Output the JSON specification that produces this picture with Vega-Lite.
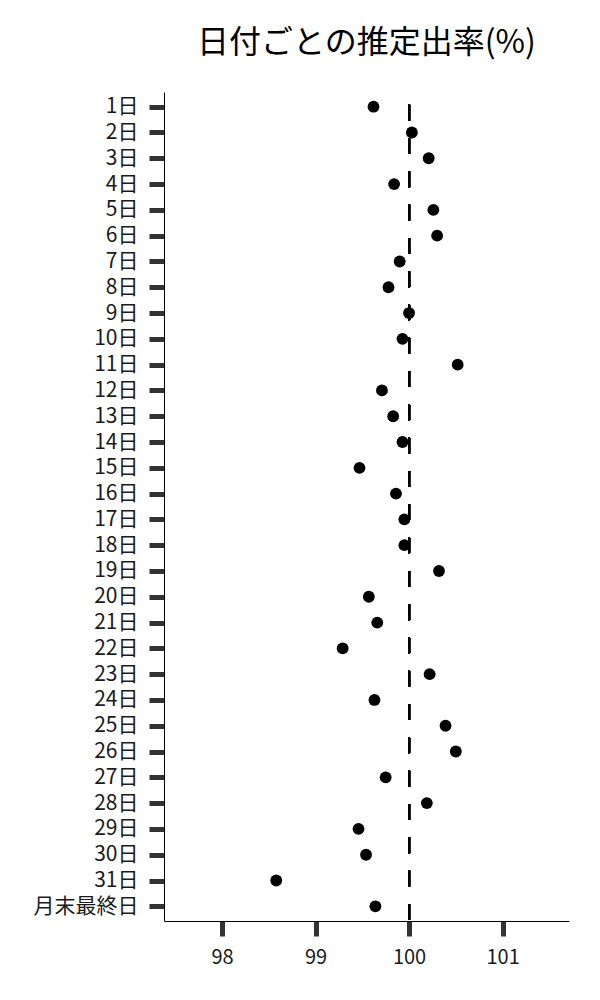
{
  "$schema": "https://vega.github.io/schema/vega-lite/v6.json",
  "description": "日付ごとの推定出率(%)",
  "autosize": {"type": "none"},
  "padding": {"left": 164, "top": 92, "right": 31, "bottom": 79},
  "width": 405,
  "height": 829,
  "title": {
    "text": "日付ごとの推定出率(%)",
    "font": "Noto Sans CJK JP",
    "fontSize": 32,
    "fontWeight": "normal",
    "color": "#000000",
    "anchor": "middle",
    "baseline": "alphabetic",
    "offset": 6
  },
  "data": {
    "values": [
      {"day": "1日", "rate": 99.62},
      {"day": "2日", "rate": 100.03},
      {"day": "3日", "rate": 100.21},
      {"day": "4日", "rate": 99.84},
      {"day": "5日", "rate": 100.26},
      {"day": "6日", "rate": 100.30},
      {"day": "7日", "rate": 99.90},
      {"day": "8日", "rate": 99.78},
      {"day": "9日", "rate": 100.00},
      {"day": "10日", "rate": 99.93},
      {"day": "11日", "rate": 100.52},
      {"day": "12日", "rate": 99.71},
      {"day": "13日", "rate": 99.83},
      {"day": "14日", "rate": 99.93},
      {"day": "15日", "rate": 99.47},
      {"day": "16日", "rate": 99.86},
      {"day": "17日", "rate": 99.95},
      {"day": "18日", "rate": 99.95},
      {"day": "19日", "rate": 100.32},
      {"day": "20日", "rate": 99.57},
      {"day": "21日", "rate": 99.66},
      {"day": "22日", "rate": 99.29},
      {"day": "23日", "rate": 100.22},
      {"day": "24日", "rate": 99.63},
      {"day": "25日", "rate": 100.39},
      {"day": "26日", "rate": 100.50},
      {"day": "27日", "rate": 99.75},
      {"day": "28日", "rate": 100.19},
      {"day": "29日", "rate": 99.46},
      {"day": "30日", "rate": 99.54},
      {"day": "31日", "rate": 98.58},
      {"day": "月末最終日", "rate": 99.64}
    ]
  },
  "layer": [
    {
      "mark": {
        "type": "rule",
        "color": "#000000",
        "strokeWidth": 2,
        "strokeDash": [16, 17.3],
        "strokeDashOffset": 20.6
      },
      "encoding": {
        "x": {"datum": 100, "type": "quantitative"}
      }
    },
    {
      "mark": {"type": "circle", "size": 140, "color": "#000000", "opacity": 1},
      "encoding": {
        "x": {"field": "rate", "type": "quantitative"},
        "y": {"field": "day", "type": "ordinal", "sort": null}
      }
    }
  ],
  "encoding": {
    "x": {
      "type": "quantitative",
      "scale": {"domain": [97.38, 101.71], "nice": false, "zero": false},
      "axis": {
        "title": null,
        "values": [98, 99, 100, 101],
        "grid": false,
        "tickSize": 15,
        "tickWidth": 5,
        "tickColor": "#333333",
        "domainColor": "#000000",
        "domainWidth": 1,
        "labelFont": "Noto Sans CJK JP",
        "labelFontSize": 20,
        "labelColor": "#1a1a1a",
        "labelPadding": 11
      }
    },
    "y": {
      "type": "ordinal",
      "scale": {"type": "point", "padding": 0.57},
      "axis": {
        "title": null,
        "grid": false,
        "tickSize": 15,
        "tickWidth": 5,
        "tickColor": "#333333",
        "domainColor": "#000000",
        "domainWidth": 1,
        "labelFont": "Noto Sans CJK JP",
        "labelFontSize": 21,
        "labelColor": "#1a1a1a",
        "labelPadding": 11
      }
    }
  },
  "config": {
    "background": "#ffffff",
    "view": {"stroke": null}
  }
}
